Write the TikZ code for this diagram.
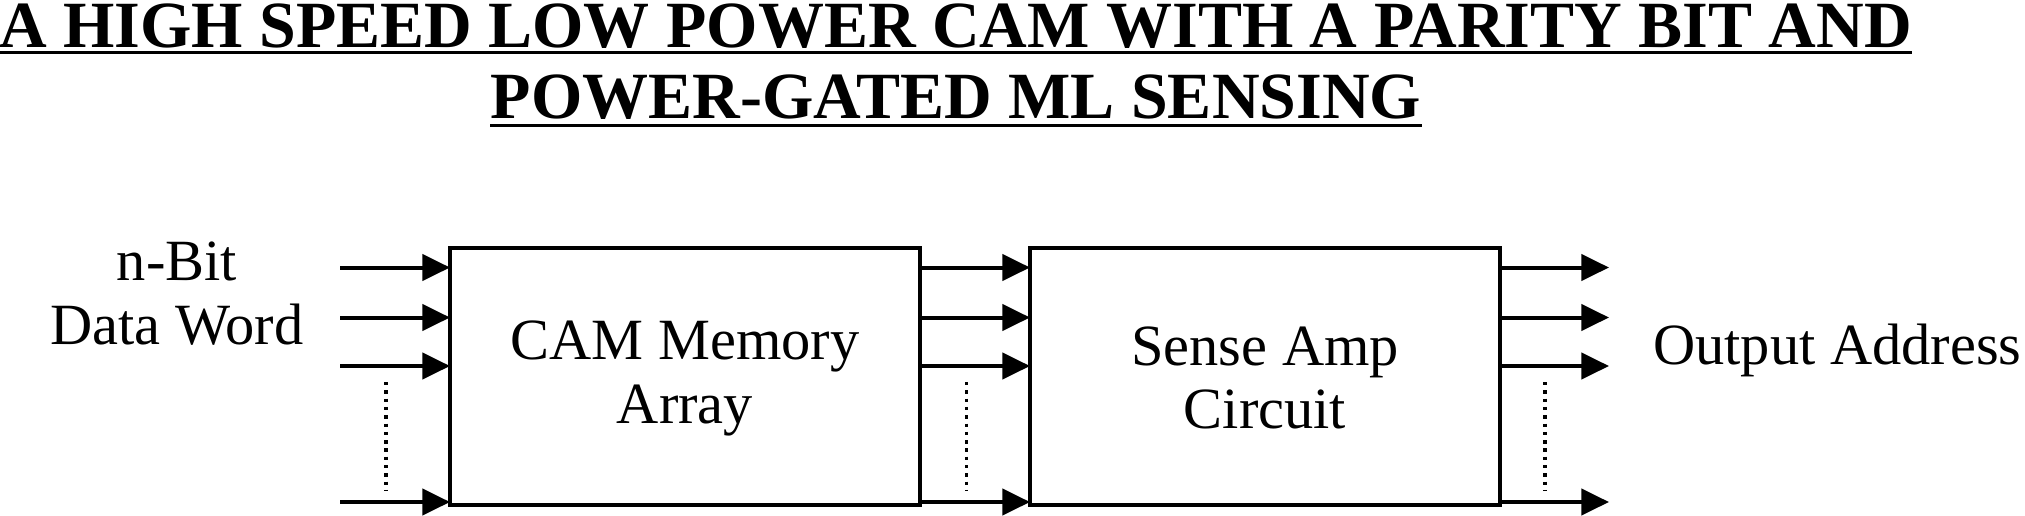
\documentclass[tikz,border=0pt]{standalone}
\usepackage{fontspec}
\setmainfont{Liberation Serif}
\usetikzlibrary{arrows.meta}
\begin{document}
\begin{tikzpicture}[x=0.5pt,y=-0.5pt,
  box/.style={draw, line width=1.7pt, inner sep=0pt, outer sep=0pt},
  lbl/.style={font=\fontsize{29.2}{33}\selectfont, inner sep=0pt, anchor=base},
  ttl/.style={font=\bfseries\fontsize{33}{38}\selectfont, inner sep=0pt, anchor=base},
  sig/.style={line width=2pt, -{Triangle[length=13.8pt,width=13pt]}},
  dotline/.style={line width=1.8pt, dash pattern=on 1.7pt off 2.45pt}]
\useasboundingbox (0,0) rectangle (2025,515);

% title
\node[ttl] (t1) at (955.5,47) {A HIGH SPEED LOW POWER CAM WITH A PARITY BIT AND};
\node[ttl] (t2) at (956,118.8) {POWER-GATED ML SENSING};
\draw[line width=1.4pt] ([yshift=-2.8pt]t1.base west) -- ([yshift=-2.8pt]t1.base east);
\draw[line width=1.4pt] ([yshift=-3.2pt]t2.base west) -- ([yshift=-3.2pt]t2.base east);

% blocks
\node[box, minimum width=235pt, minimum height=128.5pt] (cam) at (685,376.5) {};
\node[box, minimum width=235pt, minimum height=128.5pt] (sa) at (1265,376.5) {};

% labels
\node[lbl] (l1) at (177,280) {n-Bit};
\node[lbl] (l2) at (177,344) {Data Word};
\node[lbl] (c1) at (685,359.3) {CAM Memory};
\node[lbl] (c2) at (685,423.3) {Array};
\node[lbl] (s1) at (1265,365) {Sense Amp};
\node[lbl] (s2) at (1265,428.3) {Circuit};
\node[lbl, anchor=base east] (o1) at (2022,364.5) {Output Address};

% signal arrows
\foreach \i/\y in {1/267.5,2/317.5,3/366,4/502}{
  \coordinate (in\i) at (340,\y);
  \coordinate (out\i) at (1609,\y);
  \draw[sig] (in\i) -- (in\i -| cam.west);
  \draw[sig] (cam.east |- in\i) -- (sa.west |- in\i);
  \draw[sig] (sa.east |- out\i) -- (out\i);
}

% dotted continuation marks
\foreach \x in {386,966.5,1545}{
  \draw[dotline] (\x,382) -- (\x,491);
}
\end{tikzpicture}
\end{document}
